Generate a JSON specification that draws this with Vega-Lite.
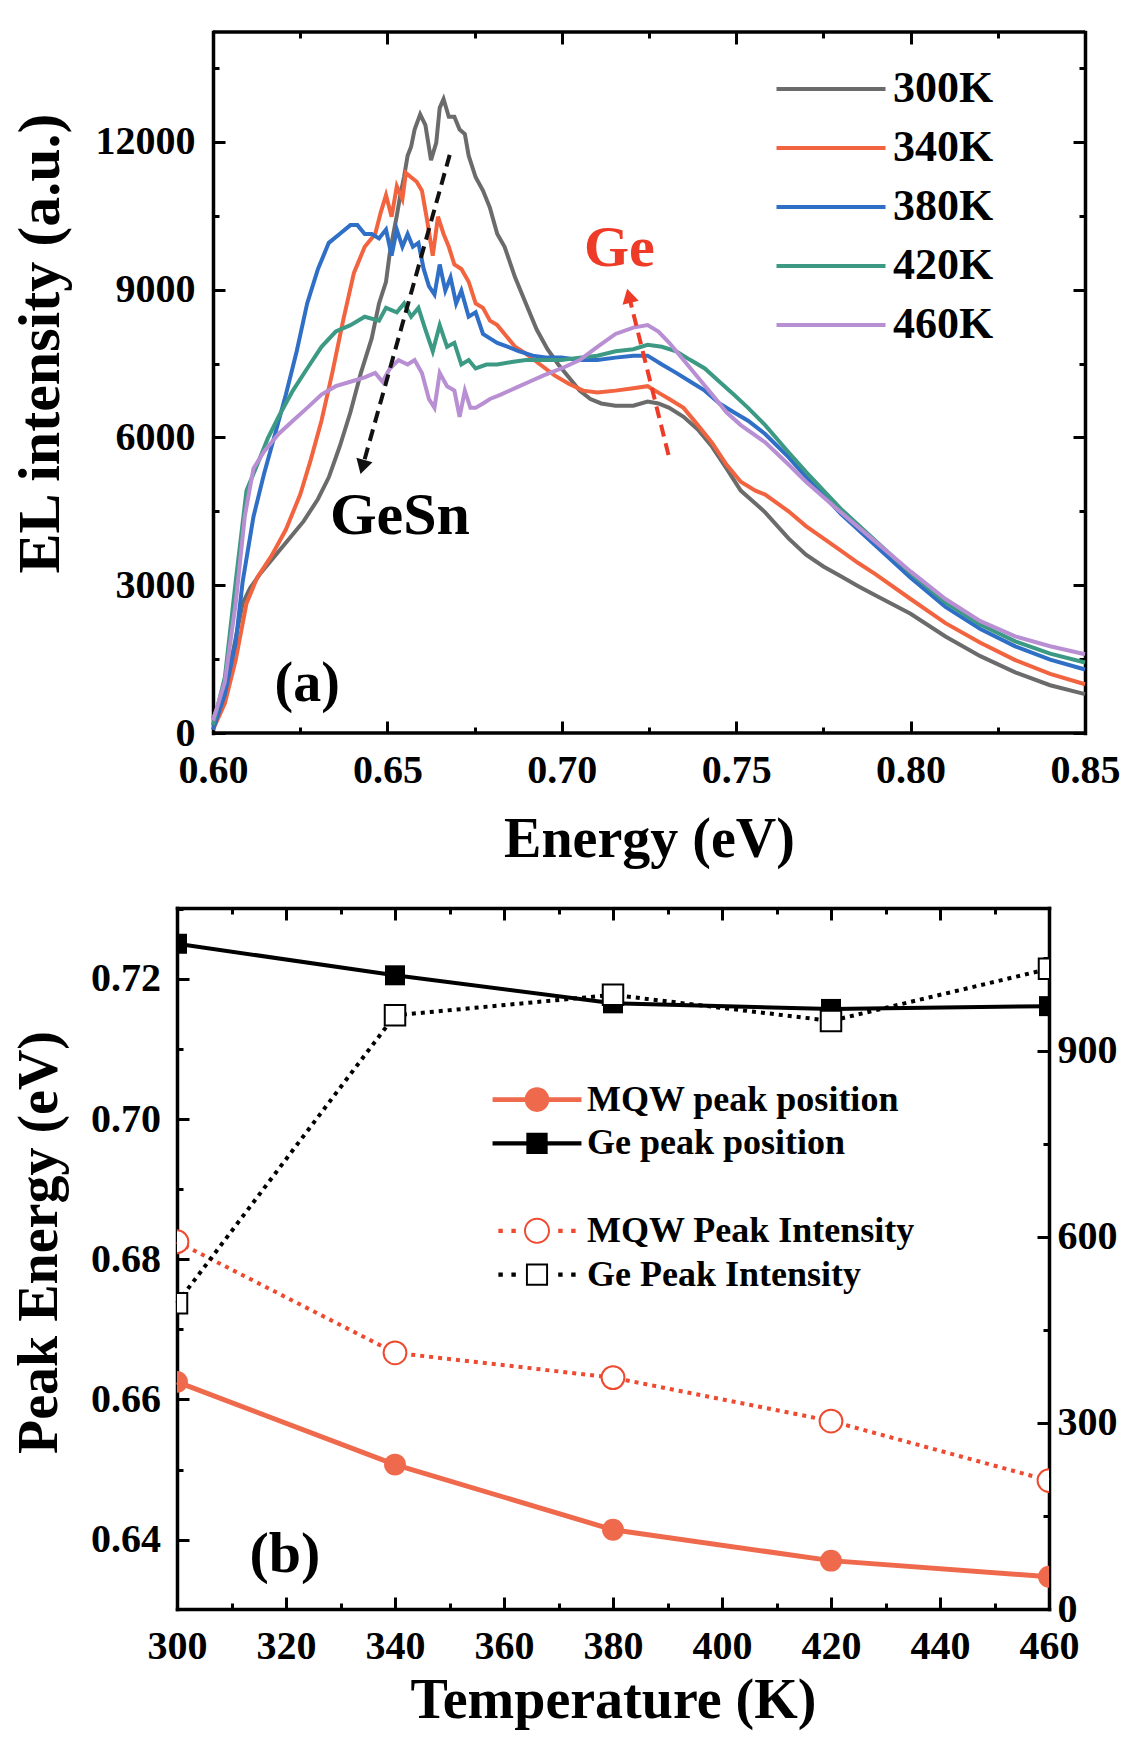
{
"$schema": "https://vega.github.io/schema/vega-lite/v6.json",
"padding": {"left": 10, "top": 30, "right": 5, "bottom": 5},
"background": "white",
"spacing": 39,
"resolve": {"scale": {"color": "independent", "shape": "independent"}, "legend": {"color": "independent", "shape": "independent"}},
"config": {
 "view": {"stroke": null},
 "axis": {"grid": false, "domainColor": "#000000", "domainWidth": 3.5, "domainCap": "square", "tickColor": "#000000", "tickWidth": 3, "labelFont": "Liberation Serif", "labelFontWeight": "bold", "labelFontSize": 40, "labelColor": "#000000", "titleFont": "Liberation Serif", "titleFontWeight": "bold", "titleFontSize": 56, "titleColor": "#000000", "labelFlush": false, "labelOverlap": false, "labelLimit": 400},
 "legend": {"labelFont": "Liberation Serif", "labelFontWeight": "bold", "labelColor": "#000000", "labelLimit": 600, "padding": 0},
 "text": {"font": "Liberation Serif", "fontWeight": "bold"}
},
"datasets": {
 "spectra": [
  {"T":"300K","E":0.6,"I":300},{"T":"300K","E":0.6034,"I":865},{"T":"300K","E":0.606,"I":1750},{"T":"300K","E":0.6085,"I":2630},{"T":"300K","E":0.6106,"I":2940},{"T":"300K","E":0.6137,"I":3250},{"T":"300K","E":0.6178,"I":3600},{"T":"300K","E":0.6219,"I":3950},{"T":"300K","E":0.626,"I":4300},{"T":"300K","E":0.6301,"I":4750},{"T":"300K","E":0.6332,"I":5190},{"T":"300K","E":0.6363,"I":5810},{"T":"300K","E":0.6394,"I":6510},{"T":"300K","E":0.6424,"I":7310},{"T":"300K","E":0.6455,"I":8010},{"T":"300K","E":0.6476,"I":8720},{"T":"300K","E":0.6496,"I":9160},{"T":"300K","E":0.6506,"I":9700},{"T":"300K","E":0.6517,"I":10130},{"T":"300K","E":0.6527,"I":10500},{"T":"300K","E":0.6537,"I":10920},{"T":"300K","E":0.6548,"I":11300},{"T":"300K","E":0.6558,"I":11720},{"T":"300K","E":0.6568,"I":11900},{"T":"300K","E":0.6578,"I":12250},{"T":"300K","E":0.6594,"I":12560},{"T":"300K","E":0.6609,"I":12340},{"T":"300K","E":0.6625,"I":11630},{"T":"300K","E":0.664,"I":11980},{"T":"300K","E":0.665,"I":12690},{"T":"300K","E":0.6661,"I":12870},{"T":"300K","E":0.6676,"I":12510},{"T":"300K","E":0.6692,"I":12510},{"T":"300K","E":0.6707,"I":12250},{"T":"300K","E":0.6722,"I":12160},{"T":"300K","E":0.6733,"I":11720},{"T":"300K","E":0.6753,"I":11280},{"T":"300K","E":0.6774,"I":11010},{"T":"300K","E":0.6794,"I":10660},{"T":"300K","E":0.6815,"I":10130},{"T":"300K","E":0.6836,"I":9870},{"T":"300K","E":0.6866,"I":9250},{"T":"300K","E":0.6897,"I":8720},{"T":"300K","E":0.6928,"I":8190},{"T":"300K","E":0.6959,"I":7790},{"T":"300K","E":0.699,"I":7480},{"T":"300K","E":0.702,"I":7220},{"T":"300K","E":0.7051,"I":6950},{"T":"300K","E":0.7082,"I":6780},{"T":"300K","E":0.7113,"I":6690},{"T":"300K","E":0.7154,"I":6645},{"T":"300K","E":0.7205,"I":6645},{"T":"300K","E":0.7246,"I":6730},{"T":"300K","E":0.7277,"I":6690},{"T":"300K","E":0.7308,"I":6600},{"T":"300K","E":0.7349,"I":6420},{"T":"300K","E":0.739,"I":6160},{"T":"300K","E":0.7431,"I":5810},{"T":"300K","E":0.7472,"I":5370},{"T":"300K","E":0.7513,"I":4920},{"T":"300K","E":0.7555,"I":4660},{"T":"300K","E":0.7583,"I":4480},{"T":"300K","E":0.765,"I":3950},{"T":"300K","E":0.77,"I":3620},{"T":"300K","E":0.775,"I":3380},{"T":"300K","E":0.78,"I":3180},{"T":"300K","E":0.785,"I":2980},{"T":"300K","E":0.79,"I":2790},{"T":"300K","E":0.8,"I":2420},{"T":"300K","E":0.81,"I":1960},{"T":"300K","E":0.82,"I":1560},{"T":"300K","E":0.83,"I":1230},{"T":"300K","E":0.84,"I":970},{"T":"300K","E":0.85,"I":790},
  {"T":"340K","E":0.6,"I":70},{"T":"340K","E":0.6034,"I":600},{"T":"340K","E":0.6065,"I":1480},{"T":"340K","E":0.6096,"I":2630},{"T":"340K","E":0.6127,"I":3160},{"T":"340K","E":0.6168,"I":3600},{"T":"340K","E":0.6209,"I":4130},{"T":"340K","E":0.625,"I":4840},{"T":"340K","E":0.628,"I":5540},{"T":"340K","E":0.6311,"I":6340},{"T":"340K","E":0.6342,"I":7310},{"T":"340K","E":0.6373,"I":8370},{"T":"340K","E":0.6404,"I":9340},{"T":"340K","E":0.6435,"I":9870},{"T":"340K","E":0.6465,"I":10130},{"T":"340K","E":0.6481,"I":10570},{"T":"340K","E":0.6496,"I":10920},{"T":"340K","E":0.6512,"I":10480},{"T":"340K","E":0.6527,"I":11100},{"T":"340K","E":0.6543,"I":10840},{"T":"340K","E":0.6553,"I":11370},{"T":"340K","E":0.6568,"I":11280},{"T":"340K","E":0.6584,"I":11190},{"T":"340K","E":0.6599,"I":11010},{"T":"340K","E":0.6614,"I":10400},{"T":"340K","E":0.663,"I":9690},{"T":"340K","E":0.6645,"I":10480},{"T":"340K","E":0.6661,"I":10130},{"T":"340K","E":0.6676,"I":9870},{"T":"340K","E":0.6692,"I":9510},{"T":"340K","E":0.6712,"I":9420},{"T":"340K","E":0.6733,"I":9160},{"T":"340K","E":0.6753,"I":8720},{"T":"340K","E":0.6774,"I":8630},{"T":"340K","E":0.6794,"I":8370},{"T":"340K","E":0.6815,"I":8280},{"T":"340K","E":0.6836,"I":8100},{"T":"340K","E":0.6866,"I":7840},{"T":"340K","E":0.6897,"I":7700},{"T":"340K","E":0.6938,"I":7480},{"T":"340K","E":0.6979,"I":7260},{"T":"340K","E":0.702,"I":7090},{"T":"340K","E":0.7061,"I":6950},{"T":"340K","E":0.7102,"I":6910},{"T":"340K","E":0.7154,"I":6950},{"T":"340K","E":0.7205,"I":7000},{"T":"340K","E":0.7246,"I":7040},{"T":"340K","E":0.7277,"I":6910},{"T":"340K","E":0.7308,"I":6780},{"T":"340K","E":0.7349,"I":6600},{"T":"340K","E":0.739,"I":6250},{"T":"340K","E":0.7431,"I":5890},{"T":"340K","E":0.7472,"I":5450},{"T":"340K","E":0.7513,"I":5100},{"T":"340K","E":0.7555,"I":4920},{"T":"340K","E":0.7583,"I":4840},{"T":"340K","E":0.765,"I":4500},{"T":"340K","E":0.77,"I":4200},{"T":"340K","E":0.775,"I":3950},{"T":"340K","E":0.78,"I":3700},{"T":"340K","E":0.785,"I":3450},{"T":"340K","E":0.79,"I":3220},{"T":"340K","E":0.8,"I":2720},{"T":"340K","E":0.81,"I":2230},{"T":"340K","E":0.82,"I":1830},{"T":"340K","E":0.83,"I":1480},{"T":"340K","E":0.84,"I":1200},{"T":"340K","E":0.85,"I":990},
  {"T":"380K","E":0.6,"I":70},{"T":"380K","E":0.6034,"I":780},{"T":"380K","E":0.6065,"I":1840},{"T":"380K","E":0.6085,"I":3070},{"T":"380K","E":0.6116,"I":4390},{"T":"380K","E":0.6147,"I":5280},{"T":"380K","E":0.6178,"I":6070},{"T":"380K","E":0.6209,"I":6870},{"T":"380K","E":0.624,"I":7750},{"T":"380K","E":0.627,"I":8720},{"T":"380K","E":0.6301,"I":9420},{"T":"380K","E":0.6332,"I":9950},{"T":"380K","E":0.6363,"I":10130},{"T":"380K","E":0.6394,"I":10310},{"T":"380K","E":0.6414,"I":10310},{"T":"380K","E":0.6435,"I":10130},{"T":"380K","E":0.6455,"I":10130},{"T":"380K","E":0.6476,"I":10040},{"T":"380K","E":0.6496,"I":10220},{"T":"380K","E":0.6512,"I":9690},{"T":"380K","E":0.6527,"I":10220},{"T":"380K","E":0.6543,"I":9870},{"T":"380K","E":0.6558,"I":10130},{"T":"380K","E":0.6573,"I":9870},{"T":"380K","E":0.6589,"I":9950},{"T":"380K","E":0.6604,"I":9420},{"T":"380K","E":0.6619,"I":9070},{"T":"380K","E":0.6635,"I":8900},{"T":"380K","E":0.665,"I":9510},{"T":"380K","E":0.6666,"I":8980},{"T":"380K","E":0.6681,"I":9250},{"T":"380K","E":0.6697,"I":8720},{"T":"380K","E":0.6712,"I":8980},{"T":"380K","E":0.6733,"I":8450},{"T":"380K","E":0.6753,"I":8540},{"T":"380K","E":0.6774,"I":8100},{"T":"380K","E":0.6794,"I":8010},{"T":"380K","E":0.6815,"I":7920},{"T":"380K","E":0.6846,"I":7840},{"T":"380K","E":0.6876,"I":7750},{"T":"380K","E":0.6917,"I":7660},{"T":"380K","E":0.6959,"I":7620},{"T":"380K","E":0.6999,"I":7620},{"T":"380K","E":0.7051,"I":7570},{"T":"380K","E":0.7102,"I":7570},{"T":"380K","E":0.7154,"I":7620},{"T":"380K","E":0.7205,"I":7660},{"T":"380K","E":0.7246,"I":7660},{"T":"380K","E":0.7287,"I":7480},{"T":"380K","E":0.7328,"I":7310},{"T":"380K","E":0.7369,"I":7130},{"T":"380K","E":0.741,"I":6950},{"T":"380K","E":0.7452,"I":6690},{"T":"380K","E":0.7493,"I":6510},{"T":"380K","E":0.7534,"I":6340},{"T":"380K","E":0.7583,"I":6070},{"T":"380K","E":0.765,"I":5600},{"T":"380K","E":0.77,"I":5200},{"T":"380K","E":0.78,"I":4450},{"T":"380K","E":0.79,"I":3800},{"T":"380K","E":0.8,"I":3150},{"T":"380K","E":0.81,"I":2560},{"T":"380K","E":0.82,"I":2110},{"T":"380K","E":0.83,"I":1760},{"T":"380K","E":0.84,"I":1490},{"T":"380K","E":0.85,"I":1290},
  {"T":"420K","E":0.6,"I":160},{"T":"420K","E":0.6034,"I":1130},{"T":"420K","E":0.6065,"I":3070},{"T":"420K","E":0.6096,"I":4920},{"T":"420K","E":0.6127,"I":5450},{"T":"420K","E":0.6157,"I":5980},{"T":"420K","E":0.6188,"I":6420},{"T":"420K","E":0.6229,"I":6950},{"T":"420K","E":0.627,"I":7400},{"T":"420K","E":0.6311,"I":7840},{"T":"420K","E":0.6352,"I":8150},{"T":"420K","E":0.6394,"I":8280},{"T":"420K","E":0.6435,"I":8450},{"T":"420K","E":0.6476,"I":8370},{"T":"420K","E":0.6496,"I":8630},{"T":"420K","E":0.6527,"I":8540},{"T":"420K","E":0.6548,"I":8720},{"T":"420K","E":0.6568,"I":8450},{"T":"420K","E":0.6589,"I":8630},{"T":"420K","E":0.6609,"I":8190},{"T":"420K","E":0.663,"I":7750},{"T":"420K","E":0.665,"I":8280},{"T":"420K","E":0.6671,"I":7840},{"T":"420K","E":0.6692,"I":7920},{"T":"420K","E":0.6712,"I":7480},{"T":"420K","E":0.6733,"I":7570},{"T":"420K","E":0.6753,"I":7400},{"T":"420K","E":0.6784,"I":7480},{"T":"420K","E":0.6815,"I":7480},{"T":"420K","E":0.6856,"I":7530},{"T":"420K","E":0.6897,"I":7570},{"T":"420K","E":0.6948,"I":7570},{"T":"420K","E":0.6999,"I":7570},{"T":"420K","E":0.7051,"I":7620},{"T":"420K","E":0.7102,"I":7660},{"T":"420K","E":0.7154,"I":7750},{"T":"420K","E":0.7205,"I":7790},{"T":"420K","E":0.7246,"I":7880},{"T":"420K","E":0.7287,"I":7840},{"T":"420K","E":0.7328,"I":7750},{"T":"420K","E":0.7369,"I":7570},{"T":"420K","E":0.741,"I":7400},{"T":"420K","E":0.7452,"I":7130},{"T":"420K","E":0.7493,"I":6870},{"T":"420K","E":0.7534,"I":6600},{"T":"420K","E":0.7583,"I":6250},{"T":"420K","E":0.765,"I":5700},{"T":"420K","E":0.77,"I":5300},{"T":"420K","E":0.78,"I":4550},{"T":"420K","E":0.79,"I":3900},{"T":"420K","E":0.8,"I":3250},{"T":"420K","E":0.81,"I":2650},{"T":"420K","E":0.82,"I":2200},{"T":"420K","E":0.83,"I":1860},{"T":"420K","E":0.84,"I":1610},{"T":"420K","E":0.85,"I":1430},
  {"T":"460K","E":0.6,"I":250},{"T":"460K","E":0.6034,"I":1040},{"T":"460K","E":0.6065,"I":2630},{"T":"460K","E":0.6091,"I":4390},{"T":"460K","E":0.6116,"I":5370},{"T":"460K","E":0.6147,"I":5720},{"T":"460K","E":0.6188,"I":6070},{"T":"460K","E":0.6229,"I":6340},{"T":"460K","E":0.627,"I":6600},{"T":"460K","E":0.6311,"I":6870},{"T":"460K","E":0.6352,"I":7040},{"T":"460K","E":0.6394,"I":7130},{"T":"460K","E":0.6435,"I":7220},{"T":"460K","E":0.6465,"I":7310},{"T":"460K","E":0.6486,"I":7130},{"T":"460K","E":0.6507,"I":7400},{"T":"460K","E":0.6532,"I":7570},{"T":"460K","E":0.6558,"I":7480},{"T":"460K","E":0.6578,"I":7570},{"T":"460K","E":0.6599,"I":7310},{"T":"460K","E":0.6619,"I":6780},{"T":"460K","E":0.6635,"I":6600},{"T":"460K","E":0.665,"I":7310},{"T":"460K","E":0.6671,"I":7040},{"T":"460K","E":0.6692,"I":6950},{"T":"460K","E":0.6707,"I":6420},{"T":"460K","E":0.6722,"I":6950},{"T":"460K","E":0.6738,"I":6600},{"T":"460K","E":0.6753,"I":6600},{"T":"460K","E":0.6774,"I":6690},{"T":"460K","E":0.6794,"I":6780},{"T":"460K","E":0.6825,"I":6870},{"T":"460K","E":0.6866,"I":7000},{"T":"460K","E":0.6907,"I":7130},{"T":"460K","E":0.6948,"I":7260},{"T":"460K","E":0.6999,"I":7400},{"T":"460K","E":0.7051,"I":7570},{"T":"460K","E":0.7102,"I":7840},{"T":"460K","E":0.7154,"I":8100},{"T":"460K","E":0.7205,"I":8230},{"T":"460K","E":0.7246,"I":8280},{"T":"460K","E":0.7277,"I":8150},{"T":"460K","E":0.7308,"I":7920},{"T":"460K","E":0.7349,"I":7570},{"T":"460K","E":0.739,"I":7220},{"T":"460K","E":0.7431,"I":6870},{"T":"460K","E":0.7472,"I":6510},{"T":"460K","E":0.7513,"I":6250},{"T":"460K","E":0.7583,"I":5900},{"T":"460K","E":0.765,"I":5450},{"T":"460K","E":0.77,"I":5100},{"T":"460K","E":0.78,"I":4480},{"T":"460K","E":0.79,"I":3880},{"T":"460K","E":0.8,"I":3280},{"T":"460K","E":0.81,"I":2720},{"T":"460K","E":0.82,"I":2270},{"T":"460K","E":0.83,"I":1960},{"T":"460K","E":0.84,"I":1760},{"T":"460K","E":0.85,"I":1600}
 ],
 "frameA": [{"E1":0.6,"E2":0.85,"I":0},{"E1":0.6,"E2":0.85,"I":14230}],
 "arrows": [{"name":"GeSn","x1":0.66786,"y1":11736,"x2":0.64286,"y2":5401},{"name":"Ge","x1":0.73059,"y1":5645,"x2":0.71924,"y2":8877}],
 "heads": [{"name":"GeSn","E":0.64286,"I":5401},{"name":"Ge","E":0.71924,"I":8877}],
 "labelsA": [{"label":"GeSn","E":0.6536,"I":4406},{"label":"Ge","E":0.7165,"I":9827},{"label":"(a)","E":0.627,"I":1000}],
 "labelsB": [{"label":"(b)","T":319.8,"v":0.6378}],
 "peaks": [
  {"T":300,"S":"MQW peak position","v":0.6625},{"T":340,"S":"MQW peak position","v":0.6507},{"T":380,"S":"MQW peak position","v":0.6414},{"T":420,"S":"MQW peak position","v":0.637},{"T":460,"S":"MQW peak position","v":0.6347},
  {"T":300,"S":"Ge peak position","v":0.725},{"T":340,"S":"Ge peak position","v":0.7205},{"T":380,"S":"Ge peak position","v":0.7165},{"T":420,"S":"Ge peak position","v":0.7157},{"T":460,"S":"Ge peak position","v":0.7161},
  {"T":300,"S":"MQW Peak Intensity","v":592},{"T":340,"S":"MQW Peak Intensity","v":413},{"T":380,"S":"MQW Peak Intensity","v":373},{"T":420,"S":"MQW Peak Intensity","v":303},{"T":460,"S":"MQW Peak Intensity","v":207},
  {"T":300,"S":"Ge Peak Intensity","v":493},{"T":340,"S":"Ge Peak Intensity","v":957},{"T":380,"S":"Ge Peak Intensity","v":990},{"T":420,"S":"Ge Peak Intensity","v":948},{"T":460,"S":"Ge Peak Intensity","v":1032}
 ]
},
"vconcat": [
 {
  "width": 908, "height": 701,
  "resolve": {"axis": {"x": "independent", "y": "independent"}},
  "layer": [
   {"data": {"name": "spectra"}, "mark": {"type": "line", "strokeWidth": 4},
    "encoding": {
     "x": {"field": "E", "type": "quantitative", "scale": {"domain": [0.5896789, 0.85], "nice": false, "zero": false},
       "axis": {"orient": "bottom", "values": [0.6,0.65,0.7,0.75,0.8,0.85], "format": ".2f", "title": "Energy (eV)", "domain": false, "tickSize": -12, "labelPadding": 29, "titlePadding": 22, "titleX": 472}},
     "y": {"field": "I", "type": "quantitative", "scale": {"domain": [0, 14230], "nice": false, "zero": false},
       "axis": {"orient": "left", "values": [0,3000,6000,9000,12000], "format": "d", "title": "EL intensity (a.u.)", "offset": -36, "tickSize": -12, "labelPadding": 30, "titlePadding": 24, "titleFontSize": 60, "titleY": 311}},
     "color": {"field": "T", "type": "nominal", "scale": {"domain": ["300K","340K","380K","420K","460K"], "range": ["#6b6b6b","#f2643f","#2f6fc6","#3c9a84","#b98fd3"]},
       "legend": {"orient": "none", "legendX": 632, "legendY": 35, "title": null, "symbolType": "M -5.45 0 L 5.45 0", "symbolSize": 400, "symbolStrokeWidth": 4, "labelFontSize": 44, "labelOffset": 40, "rowPadding": 15, "padding": 0, "symbolOpacity": 1}}
    }},
   {"data": {"name": "frameA"}, "mark": {"type": "rule", "strokeWidth": 3.5, "color": "#000000"},
    "encoding": {
     "x": {"field": "E1", "type": "quantitative", "scale": {"domain": [0.5896789, 0.85], "nice": false, "zero": false},
       "axis": {"orient": "top", "values": [0.6,0.65,0.7,0.75,0.8,0.85], "labels": false, "domain": false, "tickSize": -12, "title": null}},
     "x2": {"field": "E2"},
     "y": {"field": "I", "type": "quantitative", "scale": {"domain": [0, 14230], "nice": false, "zero": false},
       "axis": {"orient": "right", "values": [0,3000,6000,9000,12000], "labels": false, "tickSize": -12, "title": null}}
    }},
   {"data": {"name": "arrows"}, "transform": [{"filter": "datum.name === 'GeSn'"}],
    "mark": {"type": "rule", "strokeWidth": 4, "strokeDash": [12, 7], "color": "#111111"},
    "encoding": {
     "x": {"field": "x1", "type": "quantitative", "scale": {"domain": [0.5896789, 0.85], "nice": false, "zero": false},
       "axis": {"orient": "bottom", "values": [0.625,0.675,0.725,0.775,0.825], "labels": false, "domain": false, "tickSize": -6, "title": null}},
     "y": {"field": "y1", "type": "quantitative", "scale": {"domain": [0, 14230], "nice": false, "zero": false},
       "axis": {"orient": "left", "values": [1500,4500,7500,10500,13500], "labels": false, "domain": false, "tickSize": -6, "title": null, "offset": -36}},
     "x2": {"field": "x2"}, "y2": {"field": "y2"}
    }},
   {"data": {"name": "arrows"}, "transform": [{"filter": "datum.name === 'Ge'"}],
    "mark": {"type": "rule", "strokeWidth": 4, "strokeDash": [12, 7], "color": "#ee3b27"},
    "encoding": {
     "x": {"field": "x1", "type": "quantitative", "scale": {"domain": [0.5896789, 0.85], "nice": false, "zero": false},
       "axis": {"orient": "top", "values": [0.625,0.675,0.725,0.775,0.825], "labels": false, "domain": false, "tickSize": -6, "title": null}},
     "y": {"field": "y1", "type": "quantitative", "scale": {"domain": [0, 14230], "nice": false, "zero": false},
       "axis": {"orient": "right", "values": [1500,4500,7500,10500,13500], "labels": false, "domain": false, "tickSize": -6, "title": null}},
     "x2": {"field": "x2"}, "y2": {"field": "y2"}
    }},
   {"data": {"name": "heads"}, "transform": [{"filter": "datum.name === 'GeSn'"}],
    "mark": {"type": "point", "shape": "triangle-up", "angle": 195.7, "size": 280, "filled": true, "color": "#111111", "opacity": 1},
    "encoding": {
     "x": {"field": "E", "type": "quantitative", "scale": {"domain": [0.5896789, 0.85], "nice": false, "zero": false}, "axis": null},
     "y": {"field": "I", "type": "quantitative", "scale": {"domain": [0, 14230], "nice": false, "zero": false}, "axis": null}
    }},
   {"data": {"name": "heads"}, "transform": [{"filter": "datum.name === 'Ge'"}],
    "mark": {"type": "point", "shape": "triangle-up", "angle": 346, "size": 280, "filled": true, "color": "#ee3b27", "opacity": 1},
    "encoding": {
     "x": {"field": "E", "type": "quantitative", "scale": {"domain": [0.5896789, 0.85], "nice": false, "zero": false}, "axis": null},
     "y": {"field": "I", "type": "quantitative", "scale": {"domain": [0, 14230], "nice": false, "zero": false}, "axis": null}
    }},
   {"data": {"name": "labelsA"}, "transform": [{"filter": "datum.label === 'GeSn'"}],
    "mark": {"type": "text", "fontSize": 60, "color": "#000000"},
    "encoding": {
     "x": {"field": "E", "type": "quantitative", "scale": {"domain": [0.5896789, 0.85], "nice": false, "zero": false}, "axis": null},
     "y": {"field": "I", "type": "quantitative", "scale": {"domain": [0, 14230], "nice": false, "zero": false}, "axis": null},
     "text": {"field": "label"}
    }},
   {"data": {"name": "labelsA"}, "transform": [{"filter": "datum.label === 'Ge'"}],
    "mark": {"type": "text", "fontSize": 58, "color": "#ee3b27"},
    "encoding": {
     "x": {"field": "E", "type": "quantitative", "scale": {"domain": [0.5896789, 0.85], "nice": false, "zero": false}, "axis": null},
     "y": {"field": "I", "type": "quantitative", "scale": {"domain": [0, 14230], "nice": false, "zero": false}, "axis": null},
     "text": {"field": "label"}
    }},
   {"data": {"name": "labelsA"}, "transform": [{"filter": "datum.label === '(a)'"}],
    "mark": {"type": "text", "fontSize": 56, "color": "#000000"},
    "encoding": {
     "x": {"field": "E", "type": "quantitative", "scale": {"domain": [0.5896789, 0.85], "nice": false, "zero": false}, "axis": null},
     "y": {"field": "I", "type": "quantitative", "scale": {"domain": [0, 14230], "nice": false, "zero": false}, "axis": null},
     "text": {"field": "label"}
    }}
  ]
 },
 {
  "width": 872, "height": 701,
  "resolve": {"scale": {"y": "independent"}, "axis": {"x": "independent", "y": "independent"}},
  "layer": [
   {"data": {"name": "peaks"}, "transform": [{"filter": "datum.S === 'MQW peak position'"}],
    "mark": {"type": "line", "strokeWidth": 5, "color": "#ef6a4c"},
    "encoding": {
     "x": {"field": "T", "type": "quantitative", "scale": {"domain": [300, 460], "nice": false, "zero": false},
       "axis": {"orient": "bottom", "values": [300,320,340,360,380,400,420,440,460], "format": "d", "title": "Temperature (K)", "tickSize": -12, "labelPadding": 29, "titlePadding": 7}},
     "y": {"field": "v", "type": "quantitative", "scale": {"domain": [0.6301, 0.7301], "nice": false, "zero": false},
       "axis": {"orient": "left", "values": [0.64,0.66,0.68,0.7,0.72], "format": ".2f", "title": "Peak Energy (eV)", "tickSize": -12, "labelPadding": 28.5, "titlePadding": 22, "titleY": 334}}
    }},
   {"data": {"name": "peaks"}, "transform": [{"filter": "datum.S === 'Ge peak position'"}],
    "mark": {"type": "line", "strokeWidth": 4, "color": "#000000"},
    "encoding": {
     "x": {"field": "T", "type": "quantitative", "scale": {"domain": [300, 460], "nice": false, "zero": false},
       "axis": {"orient": "top", "values": [300,320,340,360,380,400,420,440,460], "labels": false, "tickSize": -12, "title": null}},
     "y": {"field": "v", "type": "quantitative", "scale": {"domain": [0.6301, 0.7301], "nice": false, "zero": false},
       "axis": {"orient": "left", "values": [0.65,0.67,0.69,0.71,0.73], "labels": false, "domain": false, "tickSize": -6, "title": null}}
    }},
   {"data": {"name": "peaks"}, "transform": [{"filter": "datum.S === 'MQW Peak Intensity'"}],
    "mark": {"type": "line", "strokeWidth": 4, "strokeDash": [4, 5], "color": "#ee4a30"},
    "encoding": {
     "x": {"field": "T", "type": "quantitative", "scale": {"domain": [300, 460], "nice": false, "zero": false},
       "axis": {"orient": "bottom", "values": [310,330,350,370,390,410,430,450], "labels": false, "domain": false, "tickSize": -6, "title": null}},
     "y": {"field": "v", "type": "quantitative", "scale": {"domain": [0, 1130], "nice": false, "zero": false},
       "axis": {"orient": "right", "values": [0,300,600,900], "format": "d", "tickSize": -12, "labelPadding": 20, "title": null}}
    }},
   {"data": {"name": "peaks"}, "transform": [{"filter": "datum.S === 'Ge Peak Intensity'"}],
    "mark": {"type": "line", "strokeWidth": 4, "strokeDash": [4, 5], "color": "#000000"},
    "encoding": {
     "x": {"field": "T", "type": "quantitative", "scale": {"domain": [300, 460], "nice": false, "zero": false},
       "axis": {"orient": "top", "values": [310,330,350,370,390,410,430,450], "labels": false, "domain": false, "tickSize": -6, "title": null}},
     "y": {"field": "v", "type": "quantitative", "scale": {"domain": [0, 1130], "nice": false, "zero": false},
       "axis": {"orient": "right", "values": [150,450,750,1050], "labels": false, "domain": false, "tickSize": -6, "title": null}}
    }},
   {"data": {"name": "peaks"}, "transform": [{"filter": "datum.S === 'MQW peak position'"}],
    "mark": {"type": "point", "shape": "circle", "filled": true, "size": 480, "color": "#ef6a4c", "opacity": 1, "clip": true},
    "encoding": {
     "x": {"field": "T", "type": "quantitative", "scale": {"domain": [300, 460], "nice": false, "zero": false}, "axis": null},
     "y": {"field": "v", "type": "quantitative", "scale": {"domain": [0.6301, 0.7301], "nice": false, "zero": false}, "axis": null}
    }},
   {"data": {"name": "peaks"}, "transform": [{"filter": "datum.S === 'Ge peak position'"}],
    "mark": {"type": "point", "shape": "square", "filled": true, "size": 400, "color": "#000000", "opacity": 1, "clip": true},
    "encoding": {
     "x": {"field": "T", "type": "quantitative", "scale": {"domain": [300, 460], "nice": false, "zero": false}, "axis": null},
     "y": {"field": "v", "type": "quantitative", "scale": {"domain": [0.6301, 0.7301], "nice": false, "zero": false}, "axis": null}
    }},
   {"data": {"name": "peaks"}, "transform": [{"filter": "datum.S === 'MQW Peak Intensity'"}],
    "mark": {"type": "point", "shape": "circle", "filled": false, "fill": "#ffffff", "size": 520, "color": "#ee4a30", "strokeWidth": 2, "opacity": 1, "clip": true},
    "encoding": {
     "x": {"field": "T", "type": "quantitative", "scale": {"domain": [300, 460], "nice": false, "zero": false}, "axis": null},
     "y": {"field": "v", "type": "quantitative", "scale": {"domain": [0, 1130], "nice": false, "zero": false}, "axis": null}
    }},
   {"data": {"name": "peaks"}, "transform": [{"filter": "datum.S === 'Ge Peak Intensity'"}],
    "mark": {"type": "point", "shape": "square", "filled": false, "fill": "#ffffff", "size": 420, "color": "#000000", "strokeWidth": 2, "opacity": 1, "clip": true},
    "encoding": {
     "x": {"field": "T", "type": "quantitative", "scale": {"domain": [300, 460], "nice": false, "zero": false}, "axis": null},
     "y": {"field": "v", "type": "quantitative", "scale": {"domain": [0, 1130], "nice": false, "zero": false}, "axis": null}
    }},
   {"data": {"name": "labelsB"},
    "mark": {"type": "text", "fontSize": 58, "color": "#000000"},
    "encoding": {
     "x": {"field": "T", "type": "quantitative", "scale": {"domain": [300, 460], "nice": false, "zero": false}, "axis": null},
     "y": {"field": "v", "type": "quantitative", "scale": {"domain": [0.6301, 0.7301], "nice": false, "zero": false}, "axis": null},
     "text": {"field": "label"}
    }},
   {"data": {"name": "peaks"},
    "mark": {"type": "point", "filled": true, "opacity": 0, "size": 676, "strokeWidth": 0, "clip": true},
    "encoding": {
     "x": {"field": "T", "type": "quantitative", "scale": {"domain": [300, 460], "nice": false, "zero": false}, "axis": null},
     "y": {"field": "v", "type": "quantitative", "scale": {"domain": [0, 1130], "nice": false, "zero": false}, "axis": null},
     "shape": {"field": "S", "type": "nominal",
       "scale": {"domain": ["MQW peak position","Ge peak position"," ","MQW Peak Intensity","Ge Peak Intensity"],
                 "range": ["M -3.42 -0.19 L 3.42 -0.19 L 3.42 0.19 L -3.42 0.19 Z M 0.95 0 A 0.95 0.95 0 1 1 -0.95 0 A 0.95 0.95 0 1 1 0.95 0 Z",
                           "M -3.42 -0.16 L 3.42 -0.16 L 3.42 0.16 L -3.42 0.16 Z M -0.82 -0.82 L 0.82 -0.82 L 0.82 0.82 L -0.82 0.82 Z",
                           "M 0 0 L 0.001 0",
                           "M -2.97 -0.17 L -2.63 -0.17 L -2.63 0.17 L -2.97 0.17 Z M -1.97 -0.17 L -1.63 -0.17 L -1.63 0.17 L -1.97 0.17 Z M 1.63 -0.17 L 1.97 -0.17 L 1.97 0.17 L 1.63 0.17 Z M 2.63 -0.17 L 2.97 -0.17 L 2.97 0.17 L 2.63 0.17 Z M 1 0 A 1 1 0 1 1 -1 0 A 1 1 0 1 1 1 0 Z M 0.85 0 A 0.85 0.85 0 1 0 -0.85 0 A 0.85 0.85 0 1 0 0.85 0 Z",
                           "M -2.97 -0.17 L -2.63 -0.17 L -2.63 0.17 L -2.97 0.17 Z M -1.97 -0.17 L -1.63 -0.17 L -1.63 0.17 L -1.97 0.17 Z M 1.63 -0.17 L 1.97 -0.17 L 1.97 0.17 L 1.63 0.17 Z M 2.63 -0.17 L 2.97 -0.17 L 2.97 0.17 L 2.63 0.17 Z M -0.85 -0.85 L 0.85 -0.85 L 0.85 0.85 L -0.85 0.85 Z M -0.7 -0.7 L -0.7 0.7 L 0.7 0.7 L 0.7 -0.7 Z"]},
       "legend": {"orient": "none", "legendX": 342, "legendY": 173.6, "title": null, "symbolSize": 676, "symbolStrokeWidth": 0, "labelFontSize": 36, "labelOffset": 32, "rowPadding": 7.75, "padding": 0, "symbolOpacity": 1}},
     "color": {"field": "S", "type": "nominal",
       "scale": {"domain": ["MQW peak position","Ge peak position"," ","MQW Peak Intensity","Ge Peak Intensity"],
                 "range": ["#ef6a4c","#000000","#ffffff","#ee4a30","#000000"]},
       "legend": {"orient": "none", "legendX": 342, "legendY": 173.6, "title": null, "symbolSize": 676, "symbolStrokeWidth": 0, "labelFontSize": 36, "labelOffset": 32, "rowPadding": 7.75, "padding": 0, "symbolOpacity": 1}}
    }}
  ]
 }
]
}
